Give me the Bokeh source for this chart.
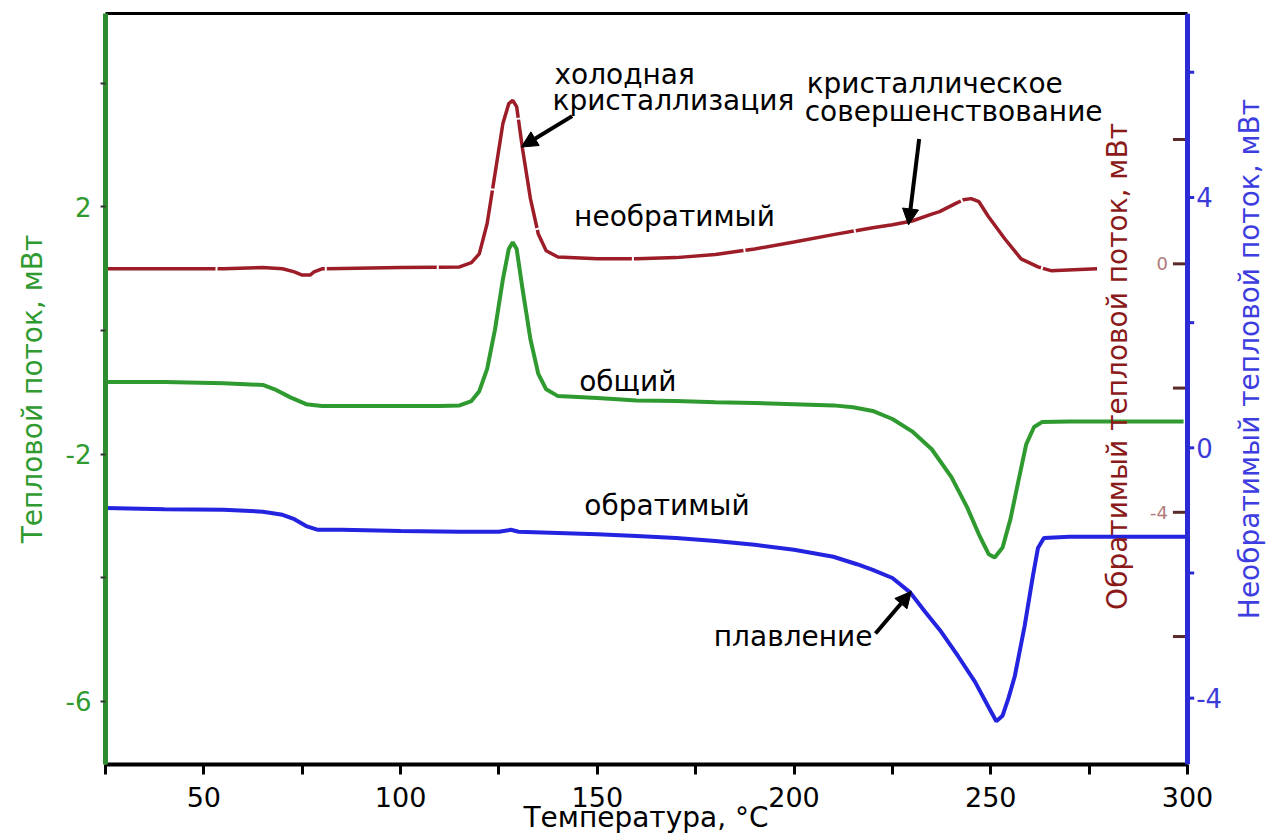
import math
from bokeh.plotting import figure
from bokeh.models import Range1d, LinearAxis, FixedTicker, Label, Arrow, NormalHead, Span
from bokeh.embed import file_html
from bokeh.resources import INLINE
from bokeh.core.properties import value

# ---------------- data ----------------
# total heat flow (green, left axis, mW)
total_T = [25, 40, 55, 65, 68, 72, 76, 80, 100, 110, 115, 118, 120, 122, 124, 126, 127.5, 128.5,
           129.5, 131, 133, 135, 137, 140, 150, 160, 170, 180, 190, 200, 210, 215, 220, 225, 230,
           235, 240, 244, 247, 249.5, 251, 253, 255, 257, 259, 261, 263, 270, 299]
total_flow = [-0.83, -0.83, -0.85, -0.88, -0.95, -1.08, -1.19, -1.22, -1.22, -1.22, -1.21, -1.14,
              -0.98, -0.62, 0.02, 0.83, 1.32, 1.43, 1.32, 0.67, -0.14, -0.70, -0.95, -1.06, -1.09,
              -1.13, -1.14, -1.16, -1.17, -1.19, -1.21, -1.24, -1.30, -1.43, -1.63, -1.92, -2.37,
              -2.86, -3.30, -3.62, -3.67, -3.51, -3.05, -2.44, -1.84, -1.56, -1.48, -1.47, -1.47]

# non-reversing heat flow curve (dark red, inner right axis)
nonrev_T = [25, 40, 55, 65, 70, 73, 75, 77, 78, 80, 100, 115, 118, 120, 122, 124, 126, 127.5,
            128.5, 129.5, 131, 133, 135, 137, 140, 150, 160, 170, 180, 190, 200, 210, 220, 225,
            230, 235, 237, 241, 243, 245, 247, 249.3, 253.6, 257.7, 262, 265.3, 277]
nonrev_flow = [-0.08, -0.08, -0.08, -0.06, -0.08, -0.13, -0.18, -0.18, -0.13, -0.08, -0.06, -0.05,
               0.02, 0.16, 0.65, 1.45, 2.26, 2.58, 2.63, 2.53, 1.85, 1.05, 0.48, 0.21, 0.11, 0.08,
               0.08, 0.10, 0.15, 0.24, 0.35, 0.47, 0.58, 0.63, 0.69, 0.80, 0.84, 0.97, 1.03, 1.05,
               1.00, 0.77, 0.40, 0.08, -0.05, -0.11, -0.08]

# reversing heat flow curve (blue, outer right axis)
rev_T = [25, 40, 55, 65, 70, 73, 76, 79, 85, 100, 115, 125, 128, 130, 140, 150, 160, 170, 180,
         190, 200, 210, 216, 220, 225, 229.5, 233.3, 237.4, 241.7, 246, 249.5, 251.4, 253, 254.5,
         256.1, 258.6, 260.7, 262, 263.5, 270, 300]
rev_flow = [-0.96, -0.98, -0.99, -1.02, -1.07, -1.14, -1.25, -1.31, -1.31, -1.33, -1.34, -1.34,
            -1.31, -1.34, -1.36, -1.38, -1.41, -1.44, -1.49, -1.55, -1.63, -1.74, -1.86, -1.95,
            -2.08, -2.31, -2.62, -2.94, -3.33, -3.74, -4.15, -4.37, -4.28, -4.00, -3.65, -2.85,
            -2.05, -1.60, -1.44, -1.42, -1.42]

x_ticks = [25, 50, 75, 100, 125, 150, 175, 200, 225, 250, 275, 300]
x_tick_labels = ["", "50", "", "100", "", "150", "", "200", "", "250", "", "300"]
left_ticks = [-6, -4, -2, 0, 2, 4]
left_tick_labels = ["-6", "", "-2", "", "2", ""]
red_ticks = [2, 0, -2, -4, -6]
red_tick_labels = ["", "0", "", "-4", ""]
blue_ticks = [-4, -2, 0, 2, 4, 6]
blue_tick_labels = ["-4", "", "0", "", "4", ""]

X_MIN, X_MAX = 25, 300
FONT = "DejaVu Sans"
GREEN = "#2f9a2f"
GREEN_AX = "#2e8b2e"
RED = "#9c1d27"
RED_T = "#8b1a1a"
BLUE = "#2323e0"
BLUE_AX = "#2b2bd6"
BLUE_T = "#3d3de0"

# the frame extends past the right axis so that the blue axis title can sit inside it
X_VIEW_END = X_MIN + (X_MAX - X_MIN) * 1170 / 1082

p = figure(width=1275, height=836, output_backend="svg", toolbar_location=None,
           x_range=Range1d(X_MIN, X_VIEW_END), y_range=Range1d(-7.02, 5.13),
           min_border_left=105, min_border_right=0, min_border_top=13, min_border_bottom=71)
p.extra_y_ranges = {"red": Range1d(-8.06, 4.03), "blue": Range1d(-5.06, 6.94)}
p.xgrid.visible = False
p.ygrid.visible = False
p.background_fill_color = "white"
p.border_fill_color = "white"
p.outline_line_color = None

# x axis
xa = p.xaxis[0]
xa.bounds = (X_MIN, X_MAX)
xa.ticker = FixedTicker(ticks=x_ticks)
xa.major_label_overrides = {t: l for t, l in zip(x_ticks, x_tick_labels)}
xa.axis_line_color = "black"
xa.axis_line_width = 4
xa.major_tick_line_color = "black"
xa.major_tick_line_width = 3
xa.major_tick_out = 10
xa.major_tick_in = 0
xa.minor_tick_line_color = None
xa.major_label_text_font = FONT
xa.major_label_text_font_size = "27px"
xa.major_label_text_color = "black"
xa.major_label_standoff = 12
# trailing no-break spaces re-centre the title under the drawn axis (the frame is wider)
xa.axis_label = "Температура, °C" + "\u00a0" * 10
xa.axis_label_text_font = FONT
xa.axis_label_text_font_size = "28px"
xa.axis_label_text_font_style = "normal"
xa.axis_label_text_color = "black"
xa.axis_label_standoff = -9

# top border line
ta = LinearAxis(bounds=(X_MIN, X_MAX), ticker=FixedTicker(ticks=[]))
ta.axis_line_color = "black"
ta.axis_line_width = 3
ta.major_tick_line_color = None
ta.minor_tick_line_color = None
ta.major_label_text_font_size = "0px"
p.add_layout(ta, "above")

# left axis (green)
ya = p.yaxis[0]
ya.ticker = FixedTicker(ticks=left_ticks)
ya.major_label_overrides = {t: l for t, l in zip(left_ticks, left_tick_labels)}
ya.axis_line_color = GREEN_AX
ya.axis_line_width = 5
ya.major_tick_line_color = "#333333"
ya.major_tick_line_width = 2
ya.major_tick_out = 5
ya.major_tick_in = 0
ya.minor_tick_line_color = None
ya.major_label_text_font = FONT
ya.major_label_text_font_size = "26px"
ya.major_label_text_color = GREEN
ya.major_label_standoff = 9
ya.axis_label = "Тепловой поток, мВт"
ya.axis_label_text_font = FONT
ya.axis_label_text_font_size = "28px"
ya.axis_label_text_font_style = "normal"
ya.axis_label_text_color = GREEN
ya.axis_label_standoff = 14

# curves
p.line(total_T, total_flow, line_color=GREEN, line_width=4)
p.line(nonrev_T, nonrev_flow, line_color=RED, line_width=3.5, y_range_name="red", line_dash="110 2")
p.line(rev_T, rev_flow, line_color=BLUE, line_width=4, y_range_name="blue")

# blue (right) axis: line, ticks, labels, title
p.add_layout(Span(location=X_MAX, dimension="height", line_color=BLUE_AX, line_width=5))
p.segment(x0=[X_MAX] * len(blue_ticks), x1=[X_MAX + 1.7] * len(blue_ticks), y0=blue_ticks,
          y1=blue_ticks, line_color=BLUE_AX, line_width=3, y_range_name="blue")
p.text(x=[X_MAX + 2.2] * len(blue_ticks), y=blue_ticks, text=blue_tick_labels, y_range_name="blue",
       text_align="left", text_baseline="middle", text_font=value(FONT),
       text_font_size="26px", text_color="#3b3bd8")
p.add_layout(Label(x=315.7, y=-0.46, text="Необратимый тепловой поток, мВт", angle=math.pi / 2,
                   text_align="center", text_baseline="middle", text_font=FONT,
                   text_font_size="28px", text_color=BLUE_T))

# inner (dark red) axis ticks and labels
p.segment(x0=[296.3] * len(red_ticks), x1=[X_MAX] * len(red_ticks), y0=red_ticks, y1=red_ticks,
          line_color="#5a2a2a", line_width=3, y_range_name="red")
p.text(x=[295.0] * len(red_ticks), y=red_ticks, text=red_tick_labels, y_range_name="red",
       text_align="right", text_baseline="middle", text_font=value(FONT),
       text_font_size="18px", text_color="#b07a7a")
p.add_layout(Label(x=282.3, y=-0.58, text="Обратимый тепловой поток, мВт", angle=math.pi / 2,
                   text_align="center", text_baseline="middle", text_font=FONT,
                   text_font_size="28px", text_color=RED_T))

# annotations
notes = [
    (139.1, 4.15, "холодная"),
    (138.6, 3.73, "кристаллизация"),
    (203.2, 3.99, "кристаллическое"),
    (202.7, 3.55, "совершенствование"),
    (144.1, 1.85, "необратимый"),
    (145.4, -0.82, "общий"),
    (146.7, -2.83, "обратимый"),
    (179.6, -4.95, "плавление"),
]
for x, y, t in notes:
    p.add_layout(Label(x=x, y=y, text=t, text_align="left", text_baseline="middle",
                       text_font=FONT, text_font_size="28px", text_color="black"))

arrows = [
    (143.6, 3.47, 130.7, 2.97),
    (231.8, 3.10, 229.1, 1.71),
    (220.7, -4.90, 229.8, -4.22),
]
for xs, ys, xe, ye in arrows:
    p.add_layout(Arrow(end=NormalHead(size=16, fill_color="black", line_color="black"),
                       x_start=xs, y_start=ys, x_end=xe, y_end=ye,
                       line_color="black", line_width=4))

open("out.html", "w").write(file_html(p, INLINE))
